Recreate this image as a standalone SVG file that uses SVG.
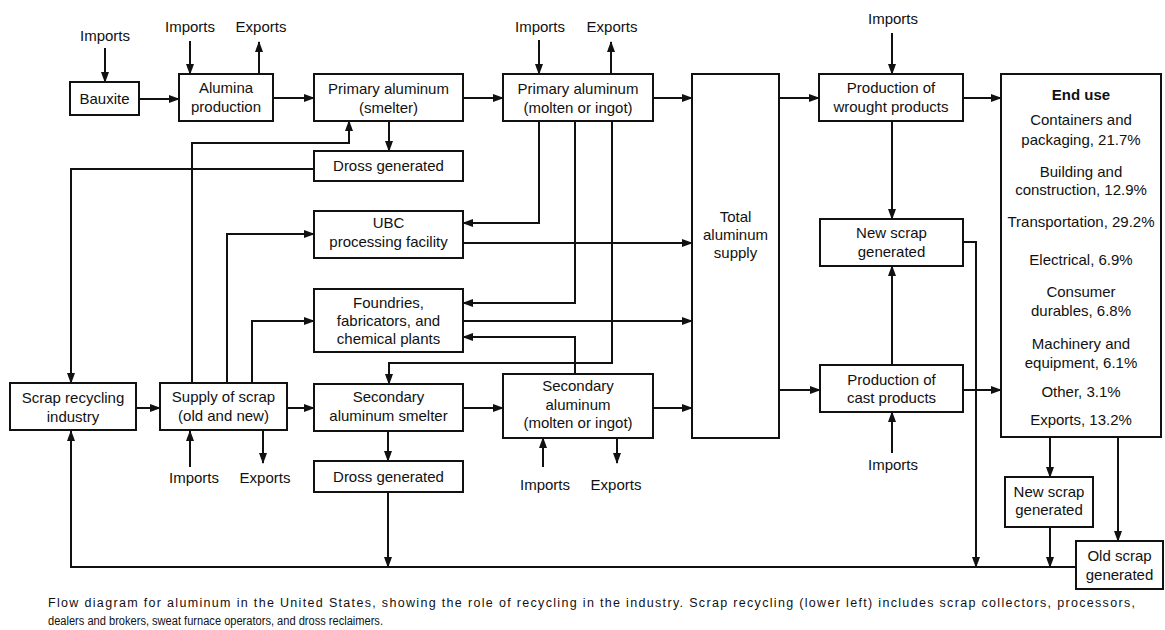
<svg xmlns="http://www.w3.org/2000/svg" width="1165" height="630" viewBox="0 0 1165 630">
<style>
.box{fill:#fff;stroke:#111;stroke-width:2}
.t{font-family:"Liberation Sans",Arial,sans-serif;font-size:15px;fill:#111;text-anchor:middle}
.b{font-weight:bold}
.c{fill:none;stroke:#111;stroke-width:2;marker-end:url(#ah)}
.cap{font-family:"Liberation Sans",Arial,sans-serif;font-size:12.5px;fill:#111}
</style>
<defs>
<marker id="ah" markerUnits="userSpaceOnUse" markerWidth="11" markerHeight="8" refX="10" refY="4" orient="auto">
<path d="M0,0 L11,4 L0,8 z" fill="#111"/>
</marker>
</defs>
<rect width="1165" height="630" fill="#fff"/>
<g id="connectors">
<path class="c" d="M105,48 V82"/>
<path class="c" d="M190,41 V74"/>
<path class="c" d="M259,74 V42"/>
<path class="c" d="M139,99 H179"/>
<path class="c" d="M273,98 H314"/>
<path class="c" d="M463,98 H503"/>
<path class="c" d="M539,40 V74"/>
<path class="c" d="M611,74 V42"/>
<path class="c" d="M653,98 H692"/>
<path class="c" d="M779,98 H819"/>
<path class="c" d="M892,33 V74"/>
<path class="c" d="M963,98 H1001"/>
<path class="c" d="M389,121 V151"/>
<path class="c" d="M314,169 H71 V383"/>
<path class="c" d="M192,383 V143 H349 V121"/>
<path class="c" d="M227,383 V234 H314"/>
<path class="c" d="M252,383 V321 H314"/>
<path class="c" d="M136,408 H160"/>
<path class="c" d="M287,408 H314"/>
<path class="c" d="M190,467 V431"/>
<path class="c" d="M263,431 V463"/>
<path class="c" d="M539,121 V223 H463"/>
<path class="c" d="M575,121 V303 H463"/>
<path class="c" d="M612,121 V363 H389 V384"/>
<path class="c" d="M463,243 H692"/>
<path class="c" d="M463,321 H692"/>
<path class="c" d="M575,374 V337 H463"/>
<path class="c" d="M463,408 H503"/>
<path class="c" d="M653,408 H692"/>
<path class="c" d="M543,467 V438"/>
<path class="c" d="M617,438 V463"/>
<path class="c" d="M388,431 V461"/>
<path class="c" d="M388,492 V567"/>
<path class="c" d="M779,390 H820"/>
<path class="c" d="M963,390 H1001"/>
<path class="c" d="M892,365 V266"/>
<path class="c" d="M892,121 V219"/>
<path class="c" d="M892,453 V412"/>
<path class="c" d="M963,242 H976 V567"/>
<path class="c" d="M1050,437 V477"/>
<path class="c" d="M1118,437 V541"/>
<path class="c" d="M1050,527 V567"/>
<path class="c" d="M1076,567 H71 V431"/>
</g>
<g id="labels">
<text class="t" x="105" y="41">Imports</text>
<text class="t" x="190" y="32">Imports</text>
<text class="t" x="261" y="32">Exports</text>
<text class="t" x="540" y="32">Imports</text>
<text class="t" x="612" y="32">Exports</text>
<text class="t" x="893" y="24">Imports</text>
<text class="t" x="194" y="483">Imports</text>
<text class="t" x="265" y="483">Exports</text>
<text class="t" x="545" y="490">Imports</text>
<text class="t" x="616" y="490">Exports</text>
<text class="t" x="893" y="470">Imports</text>
</g>
<g id="bauxite"><rect class="box" x="70" y="82" width="69" height="33"/><text class="t" x="104.5" y="104">Bauxite</text></g>
<g id="alumina"><rect class="box" x="179" y="74" width="94" height="47"/><text class="t" x="226" y="93">Alumina</text><text class="t" x="226" y="112">production</text></g>
<g id="smelter"><rect class="box" x="314" y="74" width="149" height="47"/><text class="t" x="388.5" y="94">Primary aluminum</text><text class="t" x="388.5" y="113">(smelter)</text></g>
<g id="molten"><rect class="box" x="503" y="74" width="150" height="47"/><text class="t" x="578" y="94">Primary aluminum</text><text class="t" x="578" y="113">(molten or ingot)</text></g>
<g id="dross1"><rect class="box" x="314" y="151" width="149" height="30"/><text class="t" x="388.5" y="171">Dross generated</text></g>
<g id="ubc"><rect class="box" x="314" y="211" width="149" height="47"/><text class="t" x="388.5" y="228">UBC</text><text class="t" x="388.5" y="247">processing facility</text></g>
<g id="foundries"><rect class="box" x="314" y="289" width="149" height="63"/><text class="t" x="388.5" y="308">Foundries,</text><text class="t" x="388.5" y="326">fabricators, and</text><text class="t" x="388.5" y="344">chemical plants</text></g>
<g id="scraprec"><rect class="box" x="10" y="383" width="126" height="47"/><text class="t" x="73" y="403">Scrap recycling</text><text class="t" x="73" y="422">industry</text></g>
<g id="supply"><rect class="box" x="160" y="383" width="127" height="47"/><text class="t" x="223.5" y="402">Supply of scrap</text><text class="t" x="223.5" y="421">(old and new)</text></g>
<g id="secsmelter"><rect class="box" x="314" y="384" width="149" height="47"/><text class="t" x="388.5" y="402">Secondary</text><text class="t" x="388.5" y="421">aluminum smelter</text></g>
<g id="secal"><rect class="box" x="503" y="374" width="150" height="64"/><text class="t" x="578" y="391">Secondary</text><text class="t" x="578" y="410">aluminum</text><text class="t" x="578" y="428">(molten or ingot)</text></g>
<g id="dross2"><rect class="box" x="314" y="461" width="149" height="31"/><text class="t" x="388.5" y="482">Dross generated</text></g>
<g id="total"><rect class="box" x="692" y="74" width="87" height="364"/><text class="t" x="735.5" y="222">Total</text><text class="t" x="735.5" y="240">aluminum</text><text class="t" x="735.5" y="258">supply</text></g>
<g id="wrought"><rect class="box" x="819" y="74" width="144" height="47"/><text class="t" x="891" y="93">Production of</text><text class="t" x="891" y="112">wrought products</text></g>
<g id="newscrap1"><rect class="box" x="820" y="219" width="143" height="47"/><text class="t" x="891.5" y="238">New scrap</text><text class="t" x="891.5" y="257">generated</text></g>
<g id="cast"><rect class="box" x="820" y="365" width="143" height="47"/><text class="t" x="891.5" y="385">Production of</text><text class="t" x="891.5" y="403">cast products</text></g>
<g id="enduse"><rect class="box" x="1001" y="74" width="160" height="363"/>
<text class="t b" x="1081" y="100">End use</text>
<text class="t" x="1081" y="125">Containers and</text>
<text class="t" x="1081" y="145">packaging, 21.7%</text>
<text class="t" x="1081" y="177">Building and</text>
<text class="t" x="1081" y="195">construction, 12.9%</text>
<text class="t" x="1081" y="227">Transportation, 29.2%</text>
<text class="t" x="1081" y="265">Electrical, 6.9%</text>
<text class="t" x="1081" y="297">Consumer</text>
<text class="t" x="1081" y="316">durables, 6.8%</text>
<text class="t" x="1081" y="349">Machinery and</text>
<text class="t" x="1081" y="368">equipment, 6.1%</text>
<text class="t" x="1081" y="397">Other, 3.1%</text>
<text class="t" x="1081" y="425">Exports, 13.2%</text>
</g>
<g id="newscrap2"><rect class="box" x="1005" y="477" width="88" height="50"/><text class="t" x="1049" y="497">New scrap</text><text class="t" x="1049" y="515">generated</text></g>
<g id="oldscrap"><rect class="box" x="1076" y="541" width="87" height="48"/><text class="t" x="1119.5" y="561">Old scrap</text><text class="t" x="1119.5" y="580">generated</text></g>
<g id="caption">
<text class="cap" x="48" y="607" textLength="1087" lengthAdjust="spacing">Flow diagram for aluminum in the United States, showing the role of recycling in the industry. Scrap recycling (lower left) includes scrap collectors, processors,</text>
<text class="cap" x="48" y="625" textLength="335" lengthAdjust="spacingAndGlyphs">dealers and brokers, sweat furnace operators, and dross reclaimers.</text>
</g>
</svg>
